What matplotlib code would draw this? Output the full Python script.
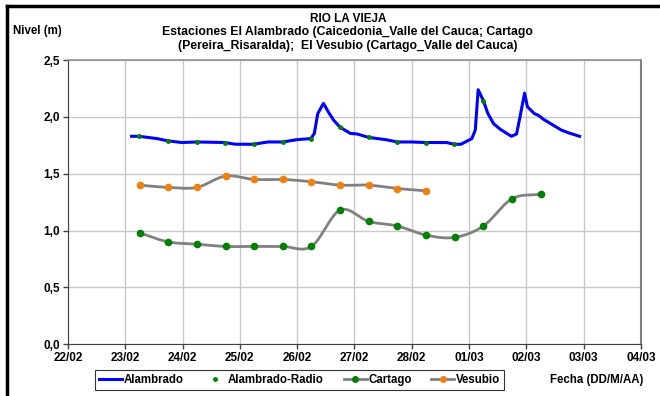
import numpy as np
import matplotlib
matplotlib.use("Agg")
from matplotlib import pyplot as plt
from matplotlib.lines import Line2D

plt.rcParams['font.family'] = ['Liberation Sans', 'DejaVu Sans']
plt.rcParams['font.weight'] = 'bold'

# dias contados desde 22/02
fechas = ['22/02', '23/02', '24/02', '25/02', '26/02', '27/02',
          '28/02', '01/03', '02/03', '03/03', '04/03']

alambrado_dia = [1.11, 1.24, 1.55, 1.74, 1.99, 2.25, 2.74, 2.92, 3.24, 3.49,
                 3.75, 3.99, 4.24, 4.30, 4.36, 4.46, 4.55, 4.64, 4.75, 4.93,
                 5.05, 5.25, 5.55, 5.75, 5.99, 6.25, 6.61, 6.74, 6.86, 7.05,
                 7.11, 7.16, 7.25, 7.33, 7.43, 7.55, 7.74, 7.83, 7.89, 7.97,
                 8.02, 8.14, 8.21, 8.30, 8.43, 8.61, 8.74, 8.93]
alambrado_val = [1.83, 1.83, 1.81, 1.79, 1.775, 1.78, 1.775, 1.76, 1.76, 1.78,
                 1.78, 1.80, 1.81, 1.855, 2.03, 2.12, 2.04, 1.97, 1.91, 1.855,
                 1.85, 1.82, 1.80, 1.78, 1.78, 1.775, 1.775, 1.76, 1.76, 1.81,
                 1.885, 2.24, 2.145, 2.03, 1.94, 1.89, 1.83, 1.85, 2.00, 2.21,
                 2.09, 2.03, 2.015, 1.98, 1.94, 1.885, 1.86, 1.83]

radio_dia = [1.24, 1.74, 2.25, 2.74, 3.24, 3.75, 4.24, 4.75, 5.25, 5.75,
             6.25, 6.74, 7.25]
radio_val = [1.83, 1.79, 1.78, 1.775, 1.76, 1.78, 1.81, 1.91, 1.82, 1.78,
             1.775, 1.76, 2.145]

cartago_dia = [1.25, 1.75, 2.25, 2.75, 3.25, 3.75, 4.25, 4.75, 5.25, 5.75,
               6.25, 6.75, 7.25, 7.75, 8.25]
cartago_val = [0.98, 0.90, 0.88, 0.86, 0.86, 0.86, 0.86, 1.18, 1.08, 1.04,
               0.96, 0.94, 1.04, 1.28, 1.32]

vesubio_dia = [1.25, 1.75, 2.25, 2.75, 3.25, 3.75, 4.25, 4.75, 5.25, 5.75, 6.25]
vesubio_val = [1.40, 1.38, 1.38, 1.48, 1.45, 1.45, 1.43, 1.40, 1.40, 1.37, 1.35]


def suavizar(x, y, n=20):
    # linea suavizada tipo Excel (Catmull-Rom)
    x = np.asarray(x, float)
    y = np.asarray(y, float)
    px = np.concatenate([[2 * x[0] - x[1]], x, [2 * x[-1] - x[-2]]])
    py = np.concatenate([[2 * y[0] - y[1]], y, [2 * y[-1] - y[-2]]])
    xs, ys = [], []
    t = np.linspace(0, 1, n)
    for i in range(1, len(px) - 2):
        for p, out in ((px, xs), (py, ys)):
            p0, p1, p2, p3 = p[i - 1], p[i], p[i + 1], p[i + 2]
            out.extend(0.5 * (2 * p1 + (-p0 + p2) * t
                              + (2 * p0 - 5 * p1 + 4 * p2 - p3) * t ** 2
                              + (-p0 + 3 * p1 - 3 * p2 + p3) * t ** 3))
    return xs, ys


fig = plt.figure(figsize=(6.6, 3.96), dpi=100)
ax = fig.add_axes([0.103, 0.131, 0.868, 0.717])

ax.plot(alambrado_dia, alambrado_val, color='#0000FF', lw=2.2, zorder=3)
ax.plot(radio_dia, radio_val, 'o', color='#008000', ms=2.5, zorder=4)

cx, cy = suavizar(cartago_dia, cartago_val)
ax.plot(cx, cy, color='#808080', lw=2, zorder=2)
ax.plot(cartago_dia, cartago_val, 'o', color='#008000', ms=4.5, zorder=3)

vx, vy = suavizar(vesubio_dia, vesubio_val)
ax.plot(vx, vy, color='#808080', lw=2, zorder=2)
ax.plot(vesubio_dia, vesubio_val, 'o', color='#F08010', ms=4.5, zorder=3)

ax.set_xlim(0, 10)
ax.set_ylim(0, 2.5)
ax.set_xticks(range(len(fechas)))
ax.set_xticklabels(fechas)
ax.set_yticks([0, 0.5, 1.0, 1.5, 2.0, 2.5])
ax.set_yticklabels(['0,0', '0,5', '1,0', '1,5', '2,0', '2,5'])
ax.tick_params(labelsize=8.5, length=3.5, width=1, color='#404040', pad=2)
ax.grid(True, color='#c8c8c8', lw=1)
ax.set_axisbelow(True)
ax.spines['top'].set_color('#909090')
ax.spines['top'].set_linewidth(1.2)
ax.spines['right'].set_color('#808080')
ax.spines['right'].set_linewidth(1.5)
ax.spines['left'].set_color('#404040')
ax.spines['bottom'].set_color('#404040')

fig.text(0.527, 0.953, 'RIO LA VIEJA', ha='center', va='center', fontsize=8.5, fontweight='bold')
fig.text(0.527, 0.918, 'Estaciones El Alambrado (Caicedonia_Valle del Cauca; Cartago',
         ha='center', va='center', fontsize=8.8, fontweight='bold')
fig.text(0.527, 0.884, '(Pereira_Risaralda);  El Vesubio (Cartago_Valle del Cauca)',
         ha='center', va='center', fontsize=8.8, fontweight='bold')
fig.text(0.02, 0.922, 'Nivel (m)', ha='left', va='center', fontsize=8.3, fontweight='bold')
fig.text(0.833, 0.04, 'Fecha (DD/M/AA)', ha='left', va='center', fontsize=8.3, fontweight='bold')

handles = [
    Line2D([], [], color='#0000FF', lw=2.2),
    Line2D([], [], color='#008000', marker='o', ls='none', ms=2.5),
    Line2D([], [], color='#808080', lw=2, marker='o', mfc='#008000', mec='#008000', ms=4),
    Line2D([], [], color='#808080', lw=2, marker='o', mfc='#F08010', mec='#F08010', ms=4),
]
leg = fig.legend(handles, ['Alambrado', 'Alambrado-Radio', 'Cartago', 'Vesubio'],
                 loc='center', bbox_to_anchor=(0.454, 0.04), ncol=4, fontsize=8.3,
                 frameon=True, fancybox=False, handlelength=2.0, handletextpad=0.15,
                 columnspacing=1.7, borderpad=0.35)
leg.get_frame().set_edgecolor('black')
leg.get_frame().set_linewidth(0.8)

# marco negro (solo izquierda y arriba)
fig.add_artist(Line2D([0.011, 0.011], [0, 0.985], transform=fig.transFigure, color='black', lw=2.5))
fig.add_artist(Line2D([0.011, 1.0], [0.985, 0.985], transform=fig.transFigure, color='black', lw=2.5))

fig.savefig('out.png', dpi=100)
